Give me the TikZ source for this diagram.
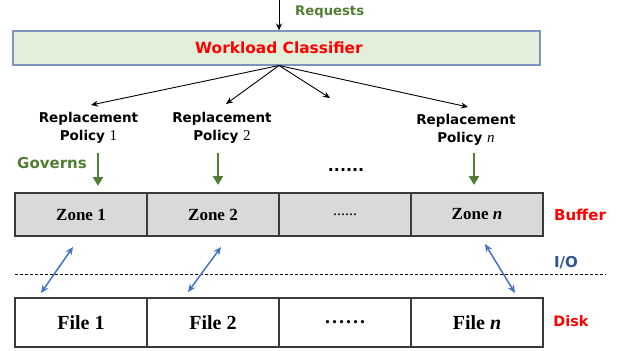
\documentclass[tikz,border=0pt]{standalone}
\usepackage{fontspec}
\setmainfont{DejaVu Sans}
\newfontfamily\tnr{Liberation Serif}
\usetikzlibrary{arrows.meta}

\definecolor{reqgreen}{HTML}{507E32}
\definecolor{clsfill}{HTML}{E2EFDA}
\definecolor{clsborder}{HTML}{7F93C0}
\definecolor{zonefill}{HTML}{D9D9D9}
\definecolor{cellborder}{HTML}{3A3A3A}
\definecolor{iolink}{HTML}{4472C4}
\definecolor{iotext}{HTML}{2F5597}
\definecolor{alertred}{HTML}{FF0000}

\tikzset{
  sanslabel/.style={font=\bfseries\fontsize{#1}{#1}\selectfont, inner sep=0pt},
  policy/.style={align=center, inner sep=0pt,
    font=\bfseries\fontsize{13.5}{18}\selectfont},
  polnum/.style={},
  cell/.style={draw=cellborder, line width=1.2pt, minimum width=132pt,
    inner sep=0pt, font=\tnr\bfseries\fontsize{#1}{#1}\selectfont},
  zonecell/.style={cell=17, fill=zonefill, minimum height=43pt},
  filecell/.style={cell=20, fill=white, minimum height=49pt},
  fanarrow/.style={-{Stealth[length=7pt,width=6pt]}, line width=0.9pt},
  govarrow/.style={-{Triangle[length=9pt,width=10pt]}, line width=2pt, draw=reqgreen},
  ioarrow/.style={{Stealth[length=8pt,width=7pt]}-{Stealth[length=8pt,width=7pt]},
    line width=1.5pt, draw=iolink},
}
\newcommand{\polno}[1]{{\tnr\mdseries\fontsize{15}{18}\selectfont #1}}

\begin{document}
\begin{tikzpicture}[x=1pt, y=-1pt]
  \useasboundingbox (0,0) rectangle (625,351);

  % classifier and incoming requests
  \node[draw=clsborder, fill=clsfill, line width=1.2pt, minimum width=527pt,
        minimum height=34pt, inner sep=0pt] (cls) at (276.5,48) {};
  \node[sanslabel=15.4, text=alertred] (clstext) at (279,48) {Workload Classifier};
  \coordinate (src) at (279,0);
  \draw[fanarrow] (src) -- (src |- cls.north);
  \node[sanslabel=13.2, text=reqgreen, anchor=west] (req) at (295,12) {Requests};

  % fan-out to the replacement policies
  \coordinate (fan) at (279,65.5);
  \coordinate (t1) at (91,105);
  \coordinate (t2) at (226,104);
  \coordinate (t3) at (330,98);
  \coordinate (t4) at (468,107);
  \foreach \t in {t1,t2,t3,t4} \draw[fanarrow] (fan) -- (\t);

  \node[policy] (pol1) at (88.5,128) {Replacement\\Policy \polno{1}};
  \node[policy] (pol2) at (222,128) {Replacement\\Policy \polno{2}};
  \node[policy] (poln) at (466,130) {Replacement\\Policy \polno{\itshape n}};
  \node[sanslabel=15.8] (pdots) at (346,170) {......};
  \node[sanslabel=15, text=reqgreen] (gov) at (52,163) {Governs};

  % policies govern the buffer zones
  \coordinate (g1s) at (98,153);  \coordinate (g1e) at (98,186);
  \coordinate (g2s) at (218,153); \coordinate (g2e) at (218,185);
  \coordinate (g4s) at (474,153); \coordinate (g4e) at (474,185);
  \draw[govarrow] (g1s) -- (g1e);
  \draw[govarrow] (g2s) -- (g2e);
  \draw[govarrow] (g4s) -- (g4e);

  % buffer row
  \node[zonecell] (z1) at (81,214.5)  {Zone 1};
  \node[zonecell] (z2) at (213,214.5) {Zone 2};
  \node[zonecell, font=\tnr\fontsize{16}{16}\selectfont] (z3) at (345,214.5) {......};
  \node[zonecell] (z4) at (477,214.5) {Zone {\itshape n}};
  \node[sanslabel=15, text=alertred] (buf) at (580,215) {Buffer};

  % I/O boundary
  \coordinate (dl) at (15,274);
  \coordinate (dr) at (606,274);
  \draw[dashed, dash pattern=on 3pt off 2pt, line width=0.9pt] (dl) -- (dr);
  \node[sanslabel=15, text=iotext] (io) at (566,263) {I/O};

  \coordinate (a1) at (73,247);  \coordinate (b1) at (41,293);
  \coordinate (a2) at (221,247); \coordinate (b2) at (188,292);
  \coordinate (a4) at (485,244); \coordinate (b4) at (515,293);
  \draw[ioarrow] (a1) -- (b1);
  \draw[ioarrow] (a2) -- (b2);
  \draw[ioarrow] (a4) -- (b4);

  % disk row
  \node[filecell] (f1) at (81,322.5)  {File 1};
  \node[filecell] (f2) at (213,322.5) {File 2};
  \node[filecell] (f3) at (345,322.5) {.\kern2pt.\kern2pt.\kern2pt.\kern2pt.\kern2pt.};
  \node[filecell] (f4) at (477,322.5) {File {\itshape n}};
  \node[sanslabel=14.4, text=alertred] (disk) at (571,321) {Disk};
\end{tikzpicture}
\end{document}
